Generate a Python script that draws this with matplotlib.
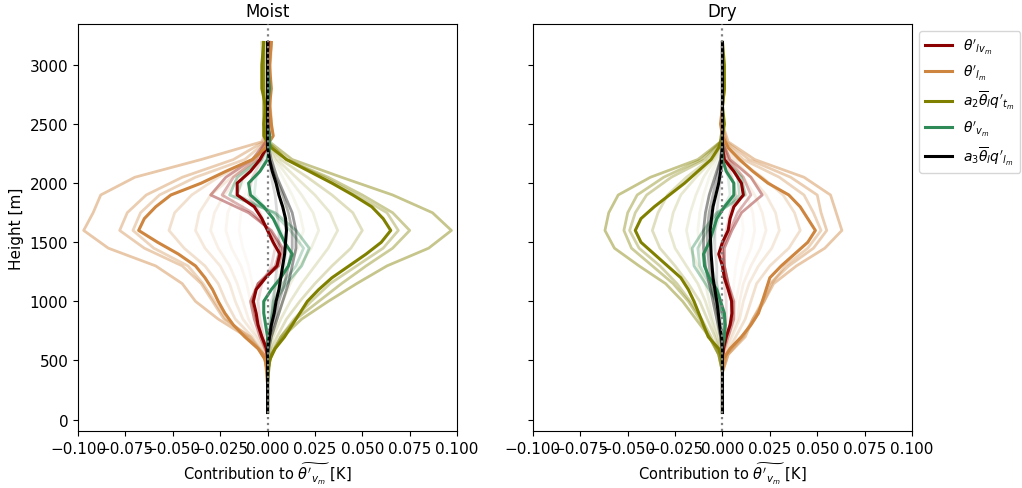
import matplotlib

matplotlib.use("Agg")
import matplotlib.pyplot as plt
import numpy as np

# height grids [m]
ZB = [60, 300, 500, 600, 700, 800, 900, 1000, 1100, 1200, 1300, 1400, 1500, 1600,
      1700, 1800, 1900, 2000, 2100, 2200, 2300, 2400, 2500, 2650, 2800, 3000, 3190]
ZF = [60, 400, 550, 700, 850, 1000, 1150, 1300, 1450, 1600, 1750, 1900, 2050,
      2200, 2350, 2500, 2800, 3190]

# alphas of the faded snapshot profiles
ALPHA_BIG = [0.05, 0.08, 0.12, 0.18, 0.25, 0.35, 0.4, 0.45]
ALPHA_SMALL = [0.15, 0.3, 0.4]

# ---- Moist: bold profiles ----
moist_lv = [0, 0, 0, -0.0005, -0.003, -0.005, -0.006, -0.0075, -0.006, -0.001, 0.005, 0.0065,
            0.003, 0.0, -0.003, -0.007, -0.016, -0.016, -0.009, -0.004, -0.0005, 0.001, 0.0,
            0.001, 0.0, 0.001, 0.001]
moist_l = [0, 0, -0.001, -0.005, -0.012, -0.018, -0.0225, -0.026, -0.029, -0.033, -0.038, -0.047,
           -0.058, -0.068, -0.065, -0.059, -0.051, -0.035, -0.022, -0.008, -0.001, 0.003, 0.002,
           0.001, 0.002, 0.001, 0.002]
moist_qt = [0, 0, 0.001, 0.004, 0.009, 0.013, 0.017, 0.021, 0.027, 0.034, 0.043, 0.052, 0.060,
            0.065, 0.061, 0.055, 0.045, 0.034, 0.022, 0.010, 0.002, -0.002, -0.002, -0.001,
            -0.003, -0.003, -0.002]
moist_v = [0, 0, 0, 0, 0, -0.001, -0.002, -0.002, 0.002, 0.007, 0.011, 0.013, 0.009, 0.006,
           0.003, -0.002, -0.009, -0.010, -0.004, 0.0, 0.001, 0.001, 0.0, 0.0, 0.001, 0.0, 0.0]
moist_ql = [0, 0, 0, 0, 0.001, 0.002, 0.0035, 0.0045, 0.006, 0.007, 0.008, 0.009, 0.0095, 0.010,
            0.0095, 0.008, 0.006, 0.0045, 0.0025, 0.001, 0, 0, 0, 0, 0, 0, 0]

# ---- Moist: faded profiles ----
moist_l_f = [
    [0, 0, -0.001, -0.002, -0.005, -0.006, -0.008, -0.010, -0.013, -0.015, -0.014, -0.012, -0.008, -0.003, 0.0, 0.001, 0.0, 0.001],
    [0, 0, -0.001, -0.003, -0.007, -0.009, -0.011, -0.014, -0.019, -0.022, -0.021, -0.017, -0.011, -0.004, 0.0, 0.001, -0.001, 0.001],
    [0, 0, -0.001, -0.005, -0.010, -0.013, -0.016, -0.020, -0.026, -0.030, -0.028, -0.023, -0.015, -0.005, 0.0, 0.001, 0.0, 0.001],
    [0, 0, -0.001, -0.006, -0.013, -0.017, -0.020, -0.025, -0.033, -0.038, -0.036, -0.030, -0.019, -0.006, 0.0, 0.002, 0.001, 0.002],
    [0, 0, -0.002, -0.008, -0.017, -0.022, -0.026, -0.033, -0.044, -0.052, -0.049, -0.040, -0.026, -0.008, 0.001, 0.002, 0.001, 0.001],
    [0, 0, -0.002, -0.010, -0.022, -0.028, -0.034, -0.042, -0.060, -0.071, -0.067, -0.057, -0.038, -0.012, -0.001, 0.002, 0.001, 0.002],
    [0, 0, -0.002, -0.009, -0.023, -0.029, -0.035, -0.045, -0.065, -0.078, -0.074, -0.064, -0.045, -0.018, -0.002, 0.001, 0.0, 0.002],
    [0, 0, -0.002, -0.011, -0.026, -0.038, -0.045, -0.059, -0.084, -0.097, -0.092, -0.088, -0.070, -0.035, -0.003, 0.001, 0.0, 0.001],
]
moist_qt_f = [
    [0, 0, 0.0, 0.001, 0.002, 0.003, 0.005, 0.007, 0.010, 0.012, 0.011, 0.008, 0.005, 0.002, 0.0, -0.001, 0.0, -0.001],
    [0, 0, 0.0, 0.002, 0.003, 0.005, 0.008, 0.011, 0.016, 0.019, 0.017, 0.013, 0.008, 0.003, 0.0, -0.001, -0.001, -0.001],
    [0, 0, 0.001, 0.002, 0.005, 0.008, 0.012, 0.017, 0.023, 0.027, 0.024, 0.018, 0.011, 0.004, 0.0, -0.001, -0.001, -0.002],
    [0, 0, 0.001, 0.003, 0.007, 0.012, 0.018, 0.025, 0.032, 0.037, 0.033, 0.025, 0.015, 0.005, 0.0, -0.001, -0.002, -0.002],
    [0, 0, 0.001, 0.005, 0.010, 0.017, 0.025, 0.034, 0.044, 0.050, 0.045, 0.034, 0.021, 0.007, 0.0, -0.002, -0.002, -0.002],
    [0, 0, 0.002, 0.007, 0.014, 0.023, 0.033, 0.047, 0.061, 0.069, 0.063, 0.047, 0.030, 0.010, 0.0, -0.002, -0.002, -0.003],
    [0, 0, 0.002, 0.007, 0.015, 0.027, 0.039, 0.052, 0.066, 0.075, 0.066, 0.050, 0.032, 0.010, 0.0, -0.002, -0.002, -0.002],
    [0, 0, 0.002, 0.008, 0.018, 0.032, 0.047, 0.063, 0.085, 0.097, 0.087, 0.066, 0.039, 0.013, 0.001, -0.001, -0.002, -0.002],
]
moist_lv_f = [
    [0, 0, 0, -0.002, -0.004, -0.005, -0.003, 0.002, 0.004, 0.0, -0.004, -0.010, -0.008, -0.003, 0, 0, 0, 0],
    [0, 0, 0, -0.003, -0.006, -0.008, -0.005, 0.004, 0.007, 0.001, -0.008, -0.024, -0.018, -0.006, -0.001, 0, 0.001, 0],
    [0, 0, 0, -0.004, -0.007, -0.009, -0.005, 0.006, 0.008, 0.002, -0.010, -0.030, -0.022, -0.008, -0.001, 0.001, 0.001, 0.001],
]
moist_v_f = [
    [0, 0, 0, 0, 0.001, 0.002, 0.005, 0.009, 0.010, 0.007, 0.001, -0.007, -0.006, -0.001, 0, 0, 0, 0],
    [0, 0, 0, 0.001, 0.002, 0.003, 0.008, 0.015, 0.019, 0.012, 0.003, -0.016, -0.013, -0.003, 0.001, 0, 0, 0],
    [0, 0, 0, 0.001, 0.002, 0.004, 0.010, 0.018, 0.022, 0.015, 0.004, -0.020, -0.016, -0.004, 0.001, 0, 0, 0],
]
moist_ql_f = [
    [0, 0, 0, 0.001, 0.002, 0.003, 0.004, 0.005, 0.006, 0.006, 0.005, 0.004, 0.002, 0.001, 0, 0, 0, 0],
    [0, 0, 0, 0.001, 0.004, 0.006, 0.009, 0.011, 0.013, 0.013, 0.011, 0.008, 0.004, 0.001, 0, 0, 0, 0],
    [0, 0, 0, 0.002, 0.005, 0.008, 0.011, 0.013, 0.015, 0.015, 0.013, 0.009, 0.005, 0.002, 0, 0, 0, 0],
]

# ---- Dry: bold profiles ----
dry_lv = [0, 0, 0, 0.0005, 0.002, 0.004, 0.005, 0.0048, 0.003, 0.001, 0.0, -0.002, 0.0, 0.003,
          0.004, 0.006, 0.011, 0.010, 0.006, 0.001, 0, 0, 0, 0, 0, 0, 0]
dry_l = [0, 0, 0, 0.004, 0.010, 0.015, 0.019, 0.021, 0.023, 0.025, 0.031, 0.038, 0.045, 0.049,
         0.045, 0.041, 0.035, 0.024, 0.016, 0.009, 0.003, 0.0, -0.001, 0.0, 0.001, 0.0, 0.0]
dry_qt = [0, 0, 0, -0.002, -0.0075, -0.010, -0.0125, -0.015, -0.018, -0.022, -0.029, -0.036,
          -0.043, -0.046, -0.043, -0.036, -0.028, -0.020, -0.013, -0.006, -0.002, 0.0, 0.001,
          0.0, 0.001, 0.001, 0.0]
dry_v = [0, 0, 0, 0, 0.001, 0.0015, 0.001, -0.001, -0.003, -0.007, -0.0095, -0.010, -0.007,
         -0.005, -0.003, 0.001, 0.006, 0.006, 0.002, 0, 0, 0, 0, 0, 0, 0, 0]
dry_ql = [0, 0, 0, 0, -0.0005, -0.0015, -0.0022, -0.003, -0.004, -0.005, -0.0055, -0.006,
          -0.0063, -0.0065, -0.0058, -0.005, -0.0035, -0.002, -0.001, -0.0005, 0, 0, 0, 0, 0, 0, 0]

# ---- Dry: faded profiles ----
dry_l_f = [
    [0, 0, 0.0, 0.002, 0.004, 0.005, 0.006, 0.007, 0.009, 0.011, 0.010, 0.008, 0.005, 0.002, 0, 0, 0, 0],
    [0, 0, 0.001, 0.003, 0.006, 0.007, 0.009, 0.011, 0.015, 0.017, 0.016, 0.013, 0.008, 0.003, 0, 0, 0, 0],
    [0, 0, 0.001, 0.004, 0.008, 0.009, 0.011, 0.015, 0.020, 0.023, 0.021, 0.017, 0.011, 0.004, 0, 0, 0, 0],
    [0, 0, 0.001, 0.005, 0.009, 0.011, 0.014, 0.019, 0.026, 0.030, 0.028, 0.023, 0.015, 0.006, 0, 0, 0, 0],
    [0, 0, 0.002, 0.007, 0.012, 0.015, 0.018, 0.025, 0.035, 0.041, 0.038, 0.032, 0.021, 0.008, 0.001, 0, 0, 0],
    [0, 0, 0.002, 0.010, 0.017, 0.022, 0.026, 0.033, 0.045, 0.052, 0.048, 0.043, 0.030, 0.011, 0.001, 0, 0, 0],
    [0, 0, 0.003, 0.011, 0.016, 0.021, 0.025, 0.035, 0.048, 0.055, 0.052, 0.050, 0.036, 0.014, 0.002, 0, 0, 0],
    [0, 0, 0.003, 0.012, 0.016, 0.022, 0.027, 0.039, 0.054, 0.063, 0.060, 0.057, 0.043, 0.017, 0.003, 0, 0, 0],
]
dry_qt_f = [
    [0, 0, 0, -0.001, -0.002, -0.003, -0.004, -0.006, -0.008, -0.009, -0.008, -0.007, -0.005, -0.002, 0, 0, 0, 0],
    [0, 0, 0, -0.002, -0.003, -0.005, -0.006, -0.009, -0.012, -0.013, -0.012, -0.010, -0.007, -0.003, 0, 0, 0, 0],
    [0, 0, -0.001, -0.002, -0.005, -0.007, -0.009, -0.013, -0.017, -0.019, -0.017, -0.014, -0.010, -0.004, 0, 0, 0, 0],
    [0, 0, -0.001, -0.003, -0.006, -0.009, -0.013, -0.019, -0.025, -0.028, -0.026, -0.022, -0.014, -0.005, 0, 0, 0, 0],
    [0, 0, -0.001, -0.004, -0.008, -0.012, -0.018, -0.025, -0.033, -0.037, -0.034, -0.029, -0.019, -0.007, 0, 0, 0, 0],
    [0, 0, -0.002, -0.006, -0.011, -0.017, -0.024, -0.033, -0.044, -0.049, -0.046, -0.040, -0.027, -0.009, -0.001, 0, 0, 0],
    [0, 0, -0.002, -0.007, -0.012, -0.018, -0.026, -0.037, -0.048, -0.052, -0.050, -0.045, -0.031, -0.011, -0.001, 0, 0, 0],
    [0, 0, -0.002, -0.007, -0.014, -0.021, -0.030, -0.044, -0.057, -0.062, -0.060, -0.055, -0.038, -0.013, -0.001, 0, 0, 0],
]
dry_lv_f = [
    [0, 0, 0, 0.001, 0.002, 0.002, 0.001, 0, 0, 0.002, 0.004, 0.007, 0.005, 0.001, 0, 0, 0, 0],
    [0, 0, 0, 0.002, 0.005, 0.005, 0.003, 0.001, 0.0, 0.004, 0.008, 0.015, 0.011, 0.003, 0, 0, 0, 0],
    [0, 0, 0, 0.003, 0.006, 0.006, 0.003, 0.001, 0.001, 0.005, 0.010, 0.021, 0.015, 0.004, 0, 0, 0, 0],
]
dry_v_f = [
    [0, 0, 0, 0, 0.001, -0.001, -0.003, -0.006, -0.006, -0.004, -0.001, 0.004, 0.003, 0, 0, 0, 0, 0],
    [0, 0, 0, 0.001, 0.001, -0.002, -0.007, -0.012, -0.013, -0.008, -0.002, 0.009, 0.008, 0.001, 0, 0, 0, 0],
    [0, 0, 0, 0.001, 0.001, -0.003, -0.009, -0.015, -0.016, -0.010, -0.003, 0.012, 0.010, 0.001, 0, 0, 0, 0],
]
dry_ql_f = [
    [0, 0, 0, 0, -0.001, -0.002, -0.003, -0.003, -0.004, -0.004, -0.003, -0.002, -0.001, 0, 0, 0, 0, 0],
    [0, 0, 0, -0.001, -0.002, -0.004, -0.006, -0.007, -0.008, -0.008, -0.007, -0.005, -0.003, -0.001, 0, 0, 0, 0],
    [0, 0, 0, -0.001, -0.003, -0.005, -0.007, -0.009, -0.010, -0.010, -0.009, -0.007, -0.004, -0.001, 0, 0, 0, 0],
]

LABELS = [r"$\theta'_{lv_m}$", r"$\theta'_{l_m}$", r"$a_2\overline{\theta}_l q'_{t_m}$",
          r"$\theta'_{v_m}$", r"$a_3\overline{\theta}_l q'_{l_m}$"]
COLORS = ["darkred", "peru", "olive", "seagreen", "black"]

panels = [
    ("Moist", [moist_lv, moist_l, moist_qt, moist_v, moist_ql],
     [moist_lv_f, moist_l_f, moist_qt_f, moist_v_f, moist_ql_f]),
    ("Dry", [dry_lv, dry_l, dry_qt, dry_v, dry_ql],
     [dry_lv_f, dry_l_f, dry_qt_f, dry_v_f, dry_ql_f]),
]

plt.rcParams["xtick.labelsize"] = 11
plt.rcParams["ytick.labelsize"] = 11

fig, axes = plt.subplots(1, 2, figsize=(10.22, 4.89), dpi=100, sharey=True)
fig.subplots_adjust(left=0.0763, right=0.8924, bottom=0.1166, top=0.9489, wspace=0.2)

for ax, (title, bold, faded) in zip(axes, panels):
    for col, fset in zip(COLORS, faded):
        alphas = ALPHA_BIG if len(fset) == 8 else ALPHA_SMALL
        for vals, a in zip(fset, alphas):
            ax.plot(vals, ZF, color=col, alpha=a, lw=2.0)
    for col, vals, lab in zip(COLORS, bold, LABELS):
        ax.plot(vals, ZB, color=col, lw=2.2, label=lab)
    ax.axvline(0, color="gray", ls=":", lw=1.6, zorder=5)
    ax.set_xlim(-0.1, 0.1)
    ax.set_xticks(np.arange(-0.1, 0.1001, 0.025))
    ax.set_title(title, fontsize=12)
    ax.set_xlabel(r"Contribution to $\widetilde{\theta'_{v_m}}$ [K]", fontsize=10.5)

axes[0].set_ylabel("Height [m]", fontsize=11)
axes[1].legend(loc="upper left", bbox_to_anchor=(1.0, 1.0), fontsize=10)

fig.savefig("out.png", dpi=100)
